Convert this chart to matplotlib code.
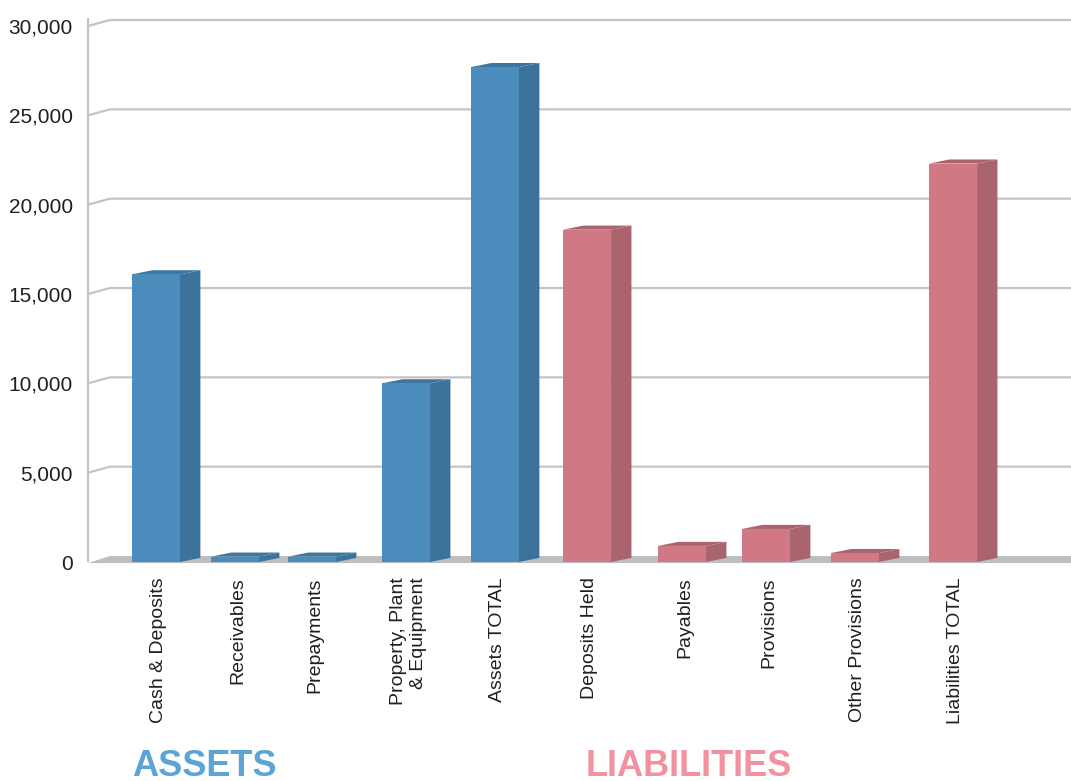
import matplotlib.pyplot as plt
from matplotlib.patches import Polygon
from matplotlib.ticker import FuncFormatter

plt.rcParams['font.family'] = ['Liberation Sans', 'DejaVu Sans']

# balance sheet items
categories = ['Cash & Deposits', 'Receivables', 'Prepayments',
              'Property, Plant\n& Equipment', 'Assets TOTAL',
              'Deposits Held', 'Payables', 'Provisions',
              'Other Provisions', 'Liabilities TOTAL']
values = [16100, 300, 300, 10000, 27700,
          18600, 900, 1850, 500, 22300]
groups = ['asset'] * 5 + ['liability'] * 5
y_ticks = [0, 5000, 10000, 15000, 20000, 25000, 30000]

# slot layout along x
slots = [0, 0.892, 1.761, 2.822, 3.826, 4.865, 5.937, 6.885, 7.889, 8.996]
bar_w = 0.542
dx, dy = 0.23, 230          # bar depth
wall_dx, wall_dy = 0.248, 335   # depth of the walls/floor
x_min, x_max = -0.7675, 10.327

colors = {
    'asset': ('#4a8dbd', '#3b739c', '#3e76a0'),
    'liability': ('#d07884', '#a9646e', '#a9646e'),
}

fig = plt.figure(figsize=(10.71, 7.81), dpi=100)
ax = fig.add_axes([88 / 1071, 219 / 781, 983 / 1071, 536 / 781])
ax.set_xlim(x_min, x_max)
ax.set_ylim(0, 30000)
for s in ax.spines.values():
    s.set_visible(False)

grid_c = '#c4c4c4'
# left wall edge
ax.plot([x_min, x_min], [0, 30000 + wall_dy + 120], color=grid_c, lw=1.6,
        clip_on=False, zorder=1, solid_capstyle='butt')
# gridlines running along wall and back
for t in y_ticks[1:]:
    ax.plot([x_min, x_min + wall_dx, x_max], [t, t + wall_dy, t + wall_dy],
            color=grid_c, lw=1.6, clip_on=False, zorder=1)

# floor
floor = Polygon([(x_min, -60), (x_min + wall_dx, wall_dy), (x_max, wall_dy),
                 (x_max, -60)], closed=True, facecolor='#bdbebf',
                edgecolor='none', clip_on=False, zorder=2)
ax.add_patch(floor)

# bars: front face via bar(), side and top as polygons
front_cols = [colors[g][0] for g in groups]
ax.bar(slots, values, width=bar_w, color=front_cols, zorder=4, linewidth=0)
for x, v, g in zip(slots, values, groups):
    _, side_c, top_c = colors[g]
    r = x + bar_w / 2
    l = x - bar_w / 2
    side = Polygon([(r, 0), (r + dx, dy), (r + dx, v + dy), (r, v)],
                   closed=True, facecolor=side_c, edgecolor='none',
                   clip_on=False, zorder=3)
    top = Polygon([(l, v), (l + dx, v + dy), (r + dx, v + dy), (r, v)],
                  closed=True, facecolor=top_c, edgecolor='none',
                  clip_on=False, zorder=3)
    ax.add_patch(side)
    ax.add_patch(top)

ax.set_yticks(y_ticks)
ax.yaxis.set_major_formatter(FuncFormatter(lambda v, p: f'{int(v):,}'))
ax.tick_params(axis='y', length=0, pad=11, labelsize=15, labelcolor='#231f20')

ax.set_xticks([s + 0.03 for s in slots])
ax.set_xticklabels(categories, rotation=90, fontsize=14, color='#231f20',
                   va='top', ha='center', multialignment='right')
ax.tick_params(axis='x', length=0, pad=11)

fig.text(132 / 1071, 5 / 781, 'ASSETS', fontsize=26, fontweight='bold',
         color='#5aa5d5', ha='left', va='baseline')
fig.text(586 / 1071, 5 / 781, 'LIABILITIES', fontsize=26, fontweight='bold',
         color='#f291a0', ha='left', va='baseline')

fig.savefig('out.png', dpi=100)
